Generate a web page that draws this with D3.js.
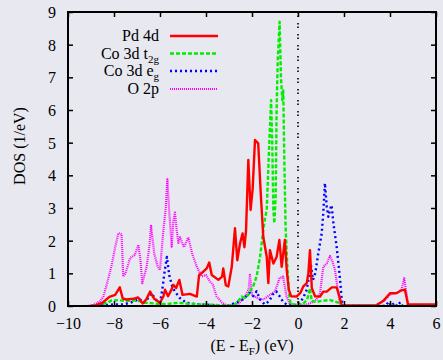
<!DOCTYPE html>
<html><head><meta charset="utf-8">
<script src="https://cdn.jsdelivr.net/npm/d3@7"></script>
<style>
html,body{margin:0;padding:0;background:#e8e8f0;}
svg{display:block;}
text{font-family:"Liberation Serif","DejaVu Serif",serif;fill:#000;}
</style></head>
<body>
<svg id="c" width="443" height="360"></svg>
<script>
// ---- data (energy in eV, DOS in 1/eV) ----
const xTicks = [-10,-8,-6,-4,-2,0,2,4,6];
const yTicks = [0,1,2,3,4,5,6,7,8,9];
const seriesNames = ["Pd 4d","Co 3d t2g","Co 3d eg","O 2p"];

const pd4d = [[-9.0,0],[-8.8,0.02],[-8.5,0.1],[-8.2,0.28],[-7.95,0.34],[-7.75,0.57],[-7.62,0.23],[-7.45,0.2],[-7.15,0.22],[-6.95,0.26],[-6.75,0.08],[-6.6,0.2],[-6.43,0.44],[-6.25,0.22],[-6.0,0.1],[-5.85,0.3],[-5.78,0.5],[-5.65,0.3],[-5.5,0.5],[-5.42,0.65],[-5.3,0.55],[-5.16,0.8],[-5.02,0.34],[-4.7,0.37],[-4.4,0.29],[-4.3,0.95],[-4.12,1.05],[-3.97,1.15],[-3.86,1.33],[-3.75,0.95],[-3.46,0.8],[-3.3,0.9],[-3.25,1.15],[-3.14,0.64],[-3.03,0.6],[-2.88,1.2],[-2.74,2.38],[-2.64,1.4],[-2.52,1.92],[-2.41,2.22],[-2.33,1.8],[-2.26,2.3],[-2.16,4.47],[-2.06,2.94],[-1.97,3.6],[-1.87,5.08],[-1.73,4.98],[-1.62,3.45],[-1.51,2.12],[-1.36,1.51],[-1.29,0.7],[-1.22,1.71],[-1.07,1.3],[-0.93,1.5],[-0.81,2.02],[-0.71,1.2],[-0.57,2.02],[-0.49,1.1],[-0.4,0.5],[-0.3,0.3],[-0.06,0.29],[0.1,0.4],[0.23,0.6],[0.38,0.7],[0.45,1.0],[0.52,1.71],[0.6,0.55],[0.74,0.3],[0.96,0.29],[1.1,0.44],[1.25,0.44],[1.47,0.57],[1.68,0.57],[1.8,0.3],[1.9,0.02],[2.5,0.02],[3.4,0.02],[3.7,0.15],[4.0,0.39],[4.3,0.4],[4.5,0.48],[4.65,0.5],[4.78,0.05],[6,0.05]];

const co3dT2g = [[-9.0,0],[-8.6,0.03],[-8.3,0.1],[-8.1,0.17],[-7.8,0.18],[-7.5,0.15],[-7.2,0.17],[-6.9,0.15],[-6.6,0.1],[-6.3,0.08],[-6.0,0.05],[-5.6,0.07],[-5.2,0.1],[-4.8,0.07],[-4.4,0.05],[-4.0,0.05],[-3.6,0.03],[-3.2,0.01],[-2.8,0.02],[-2.6,0.15],[-2.45,0.29],[-2.3,0.25],[-2.15,0.35],[-2.05,0.5],[-1.95,0.6],[-1.8,0.9],[-1.65,1.5],[-1.51,2.33],[-1.43,2.7],[-1.36,2.94],[-1.25,4.98],[-1.17,6.3],[-1.12,5.0],[-1.07,2.94],[-1.03,2.53],[-0.97,3.35],[-0.93,6.0],[-0.88,7.53],[-0.8,8.7],[-0.74,7.0],[-0.68,6.3],[-0.64,6.6],[-0.6,4.67],[-0.54,2.43],[-0.47,1.3],[-0.39,0.39],[-0.32,0.05],[0.2,0.05],[0.4,0.2],[0.52,0.54],[0.6,0.15],[0.8,0.12],[0.96,0.15],[1.2,0.17],[1.39,0.18],[1.6,0.14],[1.75,0.1],[1.85,0.0],[6,0]];

const co3dEg = [[-9.0,0],[-8.5,0.02],[-8.0,0.05],[-7.6,0.05],[-7.3,0.1],[-7.1,0.15],[-6.9,0.22],[-6.7,0.1],[-6.5,0.25],[-6.36,0.39],[-6.2,0.2],[-6.0,0.1],[-5.9,0.5],[-5.8,1.05],[-5.7,1.5],[-5.6,0.95],[-5.45,0.55],[-5.3,0.4],[-5.15,0.25],[-4.85,0.1],[-4.5,0.06],[-4.0,0.04],[-3.5,0.02],[-3.0,0.02],[-2.7,0.1],[-2.4,0.2],[-2.1,0.4],[-1.95,0.3],[-1.8,0.45],[-1.65,0.2],[-1.45,0.05],[-1.25,0.15],[-1.1,0.35],[-0.95,0.45],[-0.8,0.3],[-0.65,0.13],[-0.45,0.02],[0.0,0.02],[0.23,0.25],[0.38,0.5],[0.48,0.9],[0.55,1.3],[0.65,0.8],[0.75,1.0],[0.88,1.6],[1.03,2.22],[1.1,2.84],[1.17,3.76],[1.25,3.04],[1.32,2.73],[1.39,2.94],[1.46,3.09],[1.54,2.53],[1.68,1.82],[1.83,0.8],[1.9,0.2],[1.95,0],[3.8,0],[3.95,0.13],[4.05,0],[4.2,0.1],[4.3,0],[4.45,0.12],[4.55,0],[6,0]];

const o2p = [[-9.2,0],[-8.9,0.03],[-8.6,0.15],[-8.46,0.29],[-8.3,0.7],[-8.1,1.25],[-7.95,1.8],[-7.81,2.23],[-7.67,2.2],[-7.6,0.9],[-7.5,1.0],[-7.3,1.47],[-7.1,1.56],[-6.94,1.87],[-6.85,1.4],[-6.77,0.7],[-6.58,1.2],[-6.45,1.9],[-6.39,2.48],[-6.25,1.6],[-6.1,1.2],[-6.0,1.1],[-5.86,2.27],[-5.75,3.0],[-5.68,3.88],[-5.6,2.9],[-5.49,1.82],[-5.42,2.6],[-5.35,2.86],[-5.27,2.3],[-5.2,1.93],[-5.13,2.1],[-4.96,1.8],[-4.77,2.1],[-4.6,1.6],[-4.4,1.2],[-4.19,0.9],[-4.0,0.95],[-3.83,0.75],[-3.7,0.65],[-3.54,0.29],[-3.3,0.1],[-3.1,0.02],[-2.6,0.05],[-2.3,0.3],[-2.15,0.5],[-2.09,0.95],[-2.0,0.35],[-1.8,0.25],[-1.5,0.2],[-1.2,0.35],[-1.0,0.45],[-0.8,0.85],[-0.65,0.9],[-0.5,0.3],[-0.35,0.05],[0.3,0.03],[0.6,0.1],[0.81,0.2],[0.96,0.4],[1.1,1.2],[1.25,1.3],[1.39,1.53],[1.5,1.35],[1.61,1.1],[1.75,0.4],[1.83,0],[3.4,0],[3.8,0.2],[4.0,0.35],[4.3,0.4],[4.5,0.5],[4.62,0.85],[4.7,0.45],[4.8,0],[6,0]];

// ---- layout ----
const L = 68, R = 436, T = 12, B = 306;
const svg = d3.select("#c");
const x = d3.scaleLinear().domain([-10,6]).range([L,R]);
const y = d3.scaleLinear().domain([0,9]).range([B,T]);

svg.append("clipPath").attr("id","pc").append("rect")
  .attr("x",L).attr("y",T).attr("width",R-L).attr("height",B-T);

const line = d3.line().x(d=>x(d[0])).y(d=>y(d[1]));
const g = svg.append("g").attr("clip-path","url(#pc)");

const styles = [
  {data:pd4d,  color:"#ff0000", w:2.4, dash:null},
  {data:co3dT2g,color:"#00ee00", w:2.4, dash:"4,2"},
  {data:co3dEg, color:"#0000ff", w:2.4, dash:"2,3"},
  {data:o2p,   color:"#ff00ff", w:2.2, dash:"1,1"}
];
[3,2,1,0].forEach(i=>{
  const s = styles[i];
  g.append("path").datum(s.data).attr("d",line)
    .attr("fill","none").attr("stroke",s.color).attr("stroke-width",s.w)
    .attr("stroke-linejoin","round")
    .attr("stroke-dasharray",s.dash);
});

// Fermi level
g.append("line").attr("x1",x(0)).attr("x2",x(0)).attr("y1",T).attr("y2",B)
  .attr("stroke","#000").attr("stroke-width",1.6).attr("stroke-dasharray","1.5,2,1.5,6");

// axes
const fs = "16px";
const ax = svg.append("g").attr("transform",`translate(0,${B})`)
  .call(d3.axisBottom(x).tickValues(xTicks).tickSizeInner(-5).tickSizeOuter(0).tickPadding(12));
const ay = svg.append("g").attr("transform",`translate(${L},0)`)
  .call(d3.axisLeft(y).tickValues(yTicks).tickSizeInner(-5).tickSizeOuter(0).tickPadding(12));
const at = svg.append("g").attr("transform",`translate(0,${T})`)
  .call(d3.axisTop(x).tickValues(xTicks).tickSizeInner(-5).tickSizeOuter(0).tickFormat(""));
const ar = svg.append("g").attr("transform",`translate(${R},0)`)
  .call(d3.axisRight(y).tickValues(yTicks).tickSizeInner(-5).tickSizeOuter(0).tickFormat(""));
[ax,ay,at,ar].forEach(a=>{
  a.select(".domain").remove();
  a.selectAll(".tick line").attr("stroke","#000").attr("stroke-width",1.5);
  a.selectAll("text").attr("font-family","Liberation Serif, serif").attr("font-size",fs).attr("fill","#000");
});
ay.selectAll("text").attr("dy","0.35em");

svg.append("rect").attr("x",L).attr("y",T).attr("width",R-L).attr("height",B-T)
  .attr("fill","none").attr("stroke","#000").attr("stroke-width",2);

// axis titles
const xt = svg.append("text").attr("x",252).attr("y",351).attr("text-anchor","middle").attr("font-size",fs);
xt.append("tspan").text("(E - E");
xt.append("tspan").attr("font-size","11px").attr("dy",4).text("F");
xt.append("tspan").attr("dy",-4).text(") (eV)");

svg.append("text").attr("transform","translate(25,146) rotate(-90)")
  .attr("text-anchor","middle").attr("font-size",fs).text("DOS (1/eV)");

// legend
const legY = [36,53.5,71,89];
const legParts = [
  [["Pd 4d",0]],
  [["Co 3d t",0],["2g",1]],
  [["Co 3d e",0],["g",1]],
  [["O 2p",0]]
];
legParts.forEach((parts,i)=>{
  const t = svg.append("text").attr("x",159).attr("y",legY[i]+5)
    .attr("text-anchor","end").attr("font-size",fs);
  parts.forEach(p=>{
    const ts = t.append("tspan").text(p[0]);
    if(p[1]) ts.attr("font-size","11px").attr("dy",4);
  });
  const s = styles[i];
  svg.append("line").attr("x1",170).attr("x2",218).attr("y1",legY[i]).attr("y2",legY[i])
    .attr("stroke",s.color).attr("stroke-width",s.w).attr("stroke-dasharray",s.dash);
});
</script>
</body></html>
